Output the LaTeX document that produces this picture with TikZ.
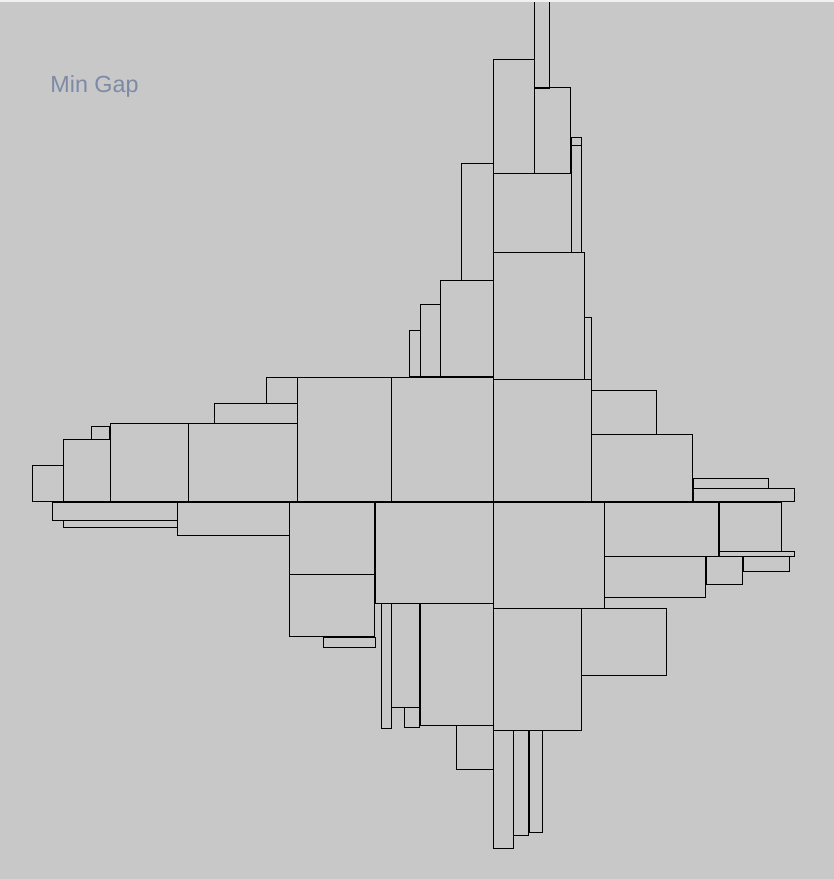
\documentclass[tikz,border=0pt]{standalone}
\usepackage{fontspec}
\usepackage{tikz}
\newfontfamily\labelfont{Liberation Sans}
\definecolor{canvas}{HTML}{C8C8C8}
\definecolor{strip}{HTML}{F2F0F2}
\definecolor{caption}{HTML}{7D8AA6}
\tikzset{block/.style={draw=black, line width=0.75pt}}

\begin{document}
\begin{tikzpicture}[x=0.75pt, y=-0.75pt]
    \fill[canvas] (0, 0) rectangle (834, 879);
    \useasboundingbox (0, 0) rectangle (834, 879);
    \node[font=\labelfont\fontsize{17.5}{20}\selectfont, text=caption, inner sep=0pt] (mingap) at (94.5, 86) {Min Gap};
    % upper arm
    \foreach \xa/\ya/\xb/\yb in {534/-4/549/88, 493/59/534/173, 534/87/570/173, 571/137/581/145,
                                 571/145/581/252, 461/163/493/280, 493/173/571/252, 493/252/584/379,
                                 584/317/591/379, 440/280/493/376, 420/304/440/376, 409/330/420/376}
        \draw[block] (\xa, \ya) rectangle (\xb, \yb);
    % left arm
    \foreach \xa/\ya/\xb/\yb in {391/377/493/501, 297/377/391/501, 266/377/297/403, 214/403/297/423,
                                 188/423/297/501, 110/423/188/501, 91/426/109/439, 63/439/110/501,
                                 32/465/63/501, 52/502/177/520, 63/520/177/527, 177/502/289/535,
                                 289/502/374/574, 289/574/374/636, 323/637/375/647}
        \draw[block] (\xa, \ya) rectangle (\xb, \yb);
    % lower arm
    \foreach \xa/\ya/\xb/\yb in {375/502/493/603, 381/603/391/728, 391/603/419/707, 404/707/419/727,
                                 420/603/493/725, 456/725/493/769, 493/608/581/730, 581/608/666/675,
                                 493/730/513/848, 513/730/528/835, 529/730/542/832}
        \draw[block] (\xa, \ya) rectangle (\xb, \yb);
    % right arm
    \foreach \xa/\ya/\xb/\yb in {493/379/591/501, 493/502/604/608, 591/390/656/434, 591/434/692/501,
                                 693/478/768/488, 693/488/794/501, 604/502/718/556, 719/502/781/551,
                                 719/551/794/556, 604/556/705/597, 706/556/742/584, 743/556/789/571}
        \draw[block] (\xa, \ya) rectangle (\xb, \yb);
    \fill[strip] (0, 0) rectangle (834, 2);
\end{tikzpicture}
\end{document}
